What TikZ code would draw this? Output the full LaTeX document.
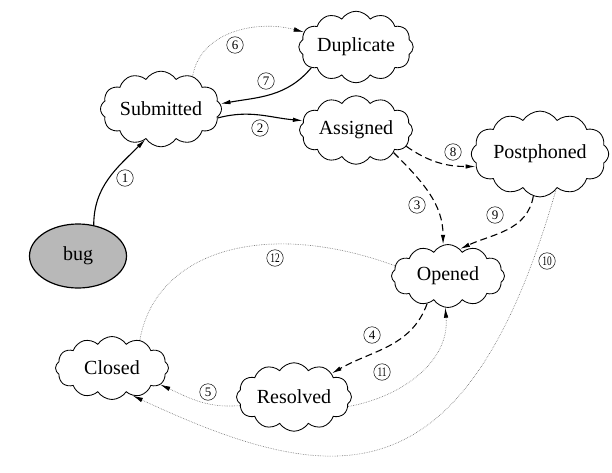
\documentclass[tikz,border=0pt]{standalone}
\usepackage{fontspec}
\setmainfont{Liberation Serif}
\usetikzlibrary{shapes.symbols,shapes.geometric,arrows.meta}
\tikzset{
  state/.style={cloud, draw, line width=0.85pt, cloud puffs=12, cloud puff arc=115, aspect=1.9,
    inner sep=0pt, font=\fontsize{20}{20}\selectfont, minimum width=113pt, minimum height=61pt},
  start/.style={ellipse, draw, line width=1.2pt, fill=black!28, inner sep=0pt,
    minimum width=97pt, minimum height=64pt, font=\fontsize{20}{20}\selectfont},
  tip/.style={-{Latex[length=10pt,width=4.5pt,color=black]}},
  solidedge/.style={tip, line width=1.1pt},
  dashedge/.style={tip, line width=1.1pt, dash pattern=on 7pt off 4pt},
  dotedge/.style={tip, line width=0.6pt, black!60, dash pattern=on 0.6pt off 1.1pt},
  plain/.style={line width=0.6pt, black!60, dash pattern=on 0.6pt off 1.1pt},
  num/.style={circle, draw, line width=0.5pt, inner sep=0pt, minimum size=16.5pt,
    font=\fontsize{13}{13}\selectfont}
}
\newcommand{\twodig}[1]{\scalebox{0.72}[1]{#1}}
\begin{document}
\begin{tikzpicture}[x=1pt,y=-1pt]
\useasboundingbox (0,0) rectangle (612,473);
\node[start] (bug) at (78,256) {bug};
\node[state] (sub) at (161,109) {Submitted};
\node[state, minimum width=100pt, minimum height=60pt] (dup) at (356,47) {Duplicate};
\node[state, minimum height=60pt] (asg) at (356,130) {Assigned};
\node[state, minimum width=115pt] (post) at (540,154) {Postphoned};
\node[state, minimum height=63pt] (open) at (448,276) {Opened};
\node[state, minimum width=115pt] (res) at (294,397) {Resolved};
\node[state, minimum height=63pt] (closed) at (112,368) {Closed};

\draw[solidedge] (bug.63) to[out=90, in=-135] (sub.-117);
\draw[solidedge] (sub.-9) to[out=15, in=175] (asg.170);
\draw[dotedge] (sub.46) to[out=80, in=165] (dup.164);
\draw[solidedge] (dup.205) to[out=-130, in=10] (sub.5);
\draw[dashedge] (asg.-18) to[out=-35, in=180] (post.191);
\draw[dashedge] (asg.-31) to[out=-45, in=90] (open.99);
\draw[dashedge] (post.-99) to[out=-100, in=25] (open.66);
\draw[dotedge] (post.-66) .. controls +(106:330) and +(25:220) .. (closed.-53);
\draw[dashedge] (open.-127) to[out=-110, in=30] (res.32);
\draw[dotedge] (res.-10) to[out=10, in=-85] (open.-95);
\draw[dotedge] (res.189) to[out=185, in=-25] (closed.-19);
\draw[plain] (open.169) .. controls +(-160:140) and +(-80:90) .. (closed.45);

\node[num] (l1) at (125,178) {1};
\node[num] (l2) at (260,128) {2};
\node[num] (l3) at (417,205) {3};
\node[num] (l4) at (372,335) {4};
\node[num] (l5) at (208,392) {5};
\node[num] (l6) at (235,45) {6};
\node[num] (l7) at (266,81) {7};
\node[num] (l8) at (453,152) {8};
\node[num] (l9) at (495,215) {9};
\node[num] (l10) at (547,261) {\twodig{10}};
\node[num] (l11) at (382,372) {\twodig{11}};
\node[num] (l12) at (275,258) {\twodig{12}};
\end{tikzpicture}
\end{document}
